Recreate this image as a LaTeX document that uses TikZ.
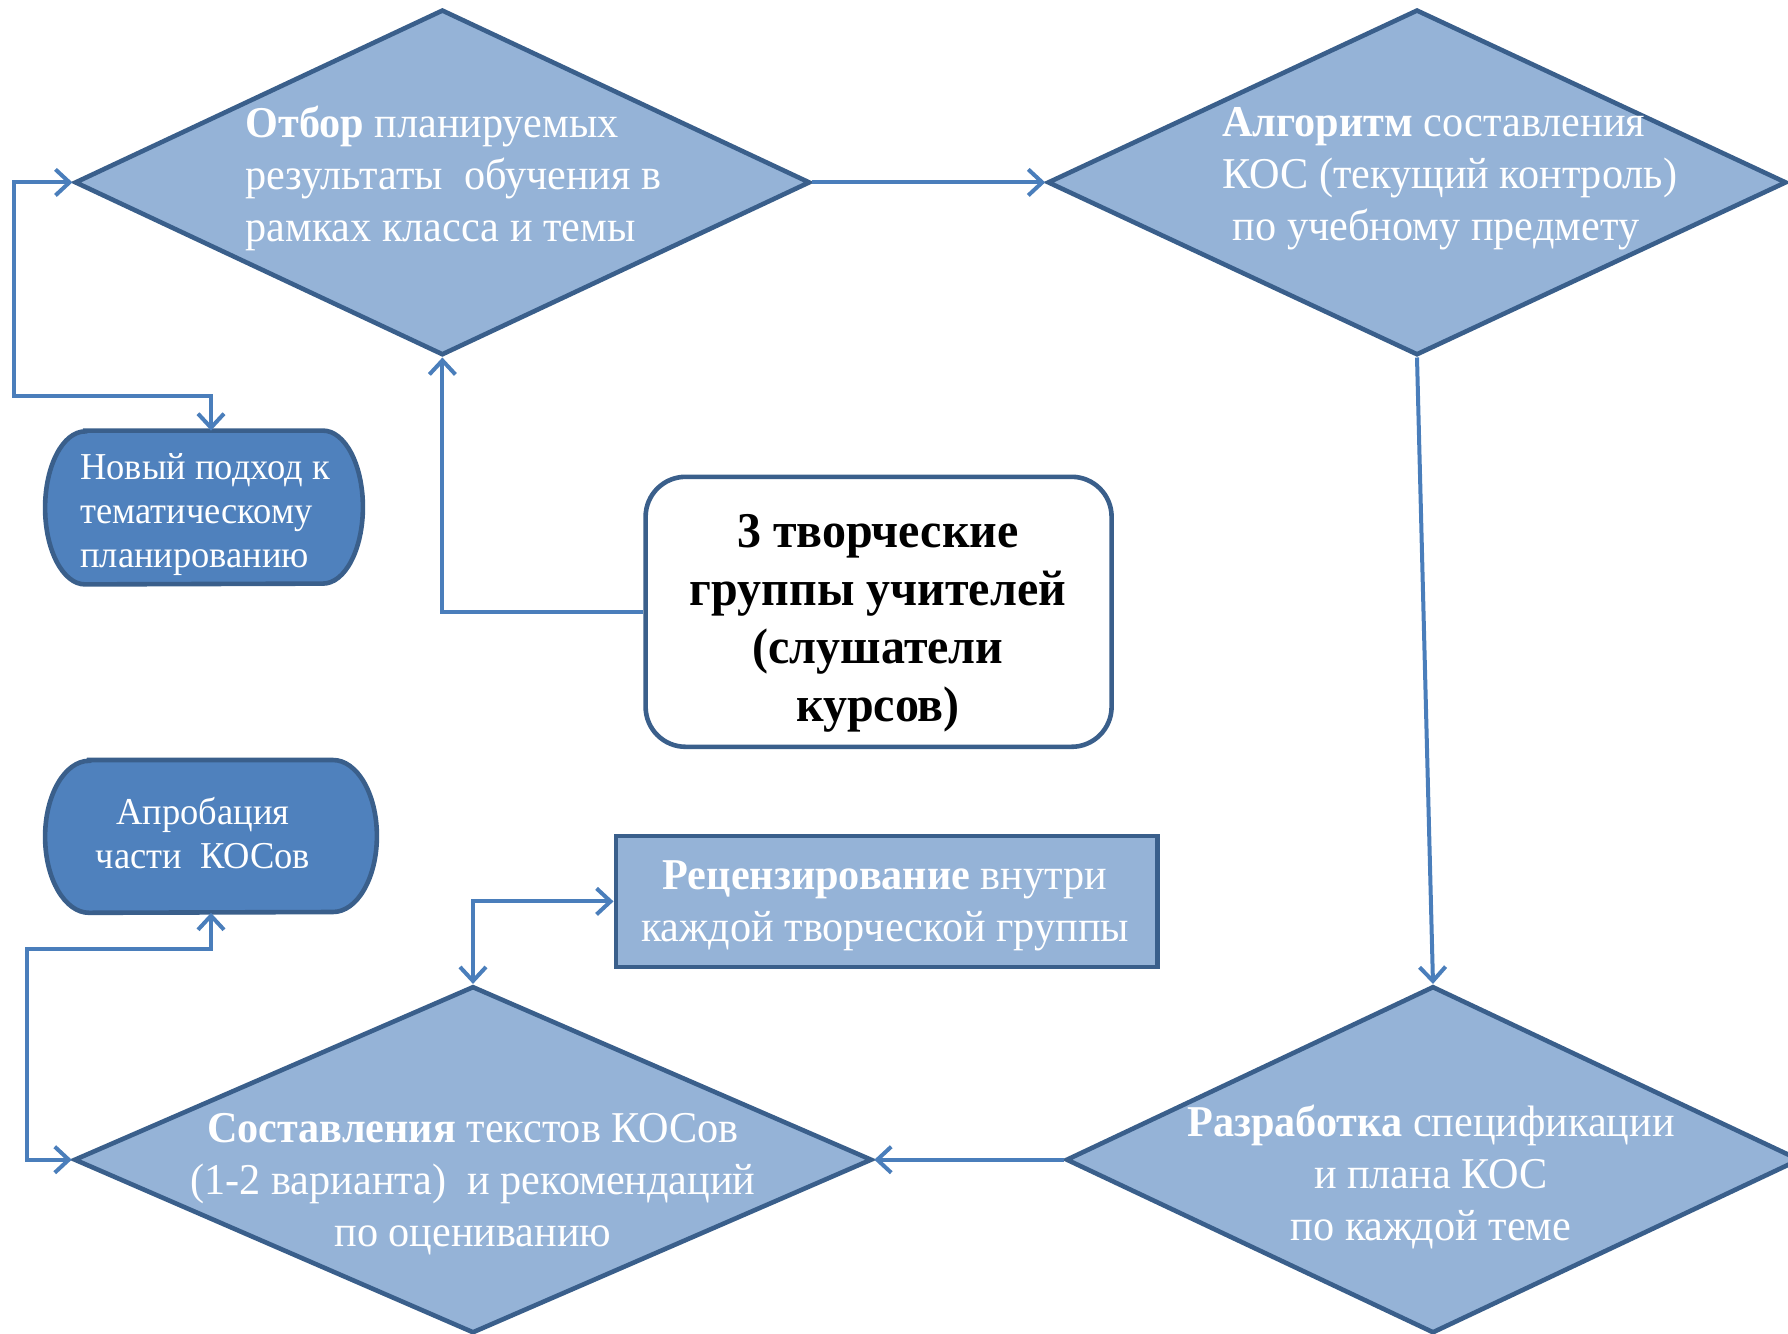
\documentclass[tikz,border=0pt]{standalone}
\usepackage{fontspec}
\setmainfont[FakeStretch=0.96]{Liberation Serif}
\usetikzlibrary{shapes.geometric,arrows.meta,calc}
\definecolor{dfill}{HTML}{95B3D7}
\definecolor{dline}{HTML}{3A5F8B}
\definecolor{cline}{HTML}{4A7EBB}
\definecolor{tfill}{HTML}{4F81BD}
\begin{document}
\begin{tikzpicture}[x=0.5pt,y=0.5pt,
  dia/.style={diamond, draw=dline, fill=dfill, line width=2.3pt, inner sep=0pt},
  term/.style={draw=dline, fill=tfill, line width=2.3pt},
  anchorbox/.style={rectangle, inner sep=0pt},
  big/.style={text=white, font=\fontsize{22}{26}\selectfont, inner sep=0pt},
  small/.style={text=white, font=\fontsize{19}{22.2}\selectfont, inner sep=0pt},
  conn/.style={draw=cline, line width=2pt, -{Straight Barb[length=7pt,width=13pt]}},
  conn2/.style={draw=cline, line width=2pt, {Straight Barb[length=7pt,width=13pt]}-{Straight Barb[length=7pt,width=13pt]}}
]
\useasboundingbox (0,0) rectangle (1788,-1333);

% diamonds
\node[dia, minimum width=367.7pt, minimum height=172.8pt] (d1) at (442.4,-182.4) {};
\node[dia, minimum width=369.5pt, minimum height=172.8pt] (d2) at (1417,-182.4) {};
\node[dia, minimum width=399pt, minimum height=173.5pt] (d3) at (473,-1159.7) {};
\node[dia, minimum width=367pt, minimum height=173.5pt] (d4) at (1433,-1159.7) {};

% terminators
\node[anchorbox, minimum width=158.5pt, minimum height=76.5pt] (novy) at (204,-507.5) {};
\draw[term] ($(novy.north west)+(20pt,0)$) -- ($(novy.north east)+(-20pt,0)$)
  arc[start angle=90,end angle=-90,x radius=20pt,y radius=38.25pt]
  -- ($(novy.south west)+(20pt,0)$)
  arc[start angle=270,end angle=90,x radius=20pt,y radius=38.25pt] -- cycle;
\node[anchorbox, minimum width=165.5pt, minimum height=76pt] (apr) at (211,-836.4) {};
\draw[term] ($(apr.north west)+(22pt,0)$) -- ($(apr.north east)+(-22pt,0)$)
  arc[start angle=90,end angle=-90,x radius=22pt,y radius=38pt]
  -- ($(apr.south west)+(22pt,0)$)
  arc[start angle=270,end angle=90,x radius=22pt,y radius=38pt] -- cycle;

% center box and review box
\node[draw=dline, fill=white, line width=2.3pt, rounded corners=20pt, minimum width=233pt, minimum height=135pt] (grp) at (878.6,-611.8) {};
\node[draw=dline, fill=dfill, line width=2.3pt, minimum width=270.8pt, minimum height=65.5pt] (rec) at (886.6,-901.4) {};

% texts
\node[big, anchor=west, align=left] (t1) at (245,-178) {\textbf{Отбор} планируемых\\результаты\ \ обучения в\\рамках класса и темы};
\node[big, anchor=west, align=left] (t2) at (1222,-179) {\textbf{Алгоритм} составления\\КОС (текущий контроль)\\\ по учебному предмету};
\node[big, align=center] (t3) at (473,-1184) {\textbf{Составления} текстов КОСов\\(1-2 варианта)\ \ и рекомендаций\\по оцениванию};
\node[big, align=center] (t4) at (1431,-1177) {\textbf{Разработка} спецификации\\и плана КОС\\по каждой теме};
\node[small, anchor=west, align=left] (t5) at (80,-514.5) {Новый подход к\\тематическому\\планированию};
\node[small, align=center] (t6) at (203,-833) {Апробация\\части\ \ КОСов};
\node[inner sep=0pt, align=center, font=\fontsize{25}{29}\selectfont\bfseries] (t7) at (878,-623.5) {3 творческие\\группы учителей\\(слушатели\\курсов)};
\node[big, align=center] (t8) at (885,-905.5) {\textbf{Рецензирование} внутри\\каждой творческой группы};

% connectors
\coordinate (c1) at (13.7,-395.7);
\coordinate (c2) at (27.4,-948.7);
\draw[conn] (d1.east) -- (d2.west);
\draw[conn2] ([xshift=3.5pt]novy.north) -- ([xshift=3.5pt]novy.north |- c1) -- (c1) -- (c1 |- d1.west) -- (d1.west);
\draw[conn] (grp.west) -| (d1.south);
\draw[conn] (d2.south) -- (d4.north);
\draw[conn] (d4.west) -- (d3.east);
\draw[conn2] (d3.north) |- (rec.west);
\draw[conn2] (apr.south) -- (apr.south |- c2) -- (c2) |- (d3.west);
\end{tikzpicture}
\end{document}
